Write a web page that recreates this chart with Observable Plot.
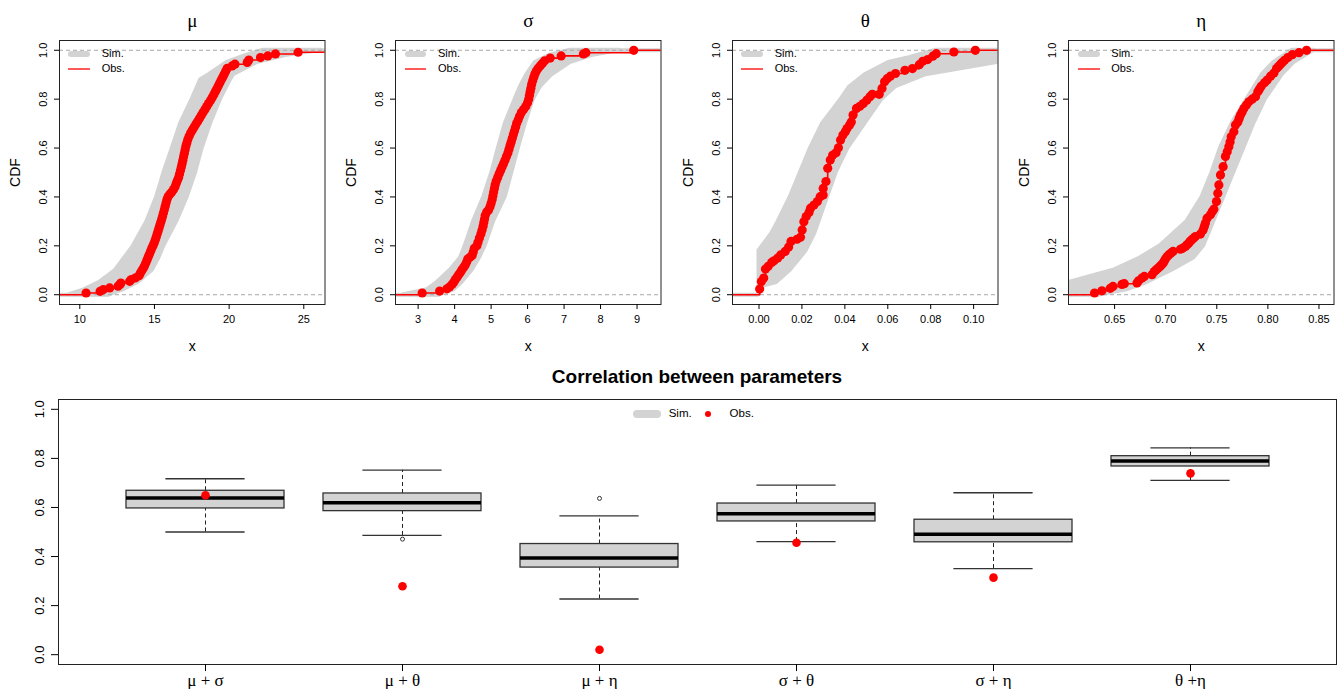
<!DOCTYPE html>
<html><head><meta charset="utf-8">
<script src="https://cdn.jsdelivr.net/npm/d3@7"></script>
<script src="https://cdn.jsdelivr.net/npm/@observablehq/plot@0.6"></script>
<style>
html,body{margin:0;padding:0;background:#fff;overflow:hidden;}
#wrap{position:relative;width:1338px;height:689px;overflow:hidden;font-family:"Liberation Sans",Arial,Helvetica,sans-serif;color:#000;}
.abs{position:absolute;}
.lab{position:absolute;white-space:nowrap;line-height:1;}
</style></head><body><div id="wrap"></div>
<script>
// ---------- DATA ----------
// μ panel: observed ECDF points (x, F)
const muObsX = [10.42,11.36,11.58,12.0,12.56,12.7,12.75,13.34,13.45,13.74,13.97,14.05,14.15,14.25,14.33,14.42,14.5,14.58,14.66,14.74,14.82,14.9,14.98,15.05,15.12,15.18,15.24,15.3,15.36,15.42,15.48,15.54,15.6,15.66,15.72,15.78,15.84,15.92,16.04,16.16,16.28,16.38,16.46,16.54,16.62,16.68,16.74,16.8,16.85,16.9,16.95,17.0,17.05,17.1,17.16,17.23,17.32,17.42,17.54,17.66,17.78,17.9,18.02,18.14,18.26,18.38,18.5,18.62,18.74,18.86,18.97,19.07,19.17,19.27,19.37,19.47,19.57,19.67,19.77,19.87,20.2,20.39,21.21,21.32,22.1,22.59,23.1,24.62];
const muObsF = [0.007,0.014,0.021,0.028,0.035,0.042,0.048,0.055,0.062,0.069,0.078,0.088,0.098,0.108,0.118,0.13,0.142,0.154,0.166,0.178,0.19,0.2,0.212,0.224,0.236,0.248,0.26,0.272,0.284,0.296,0.308,0.32,0.334,0.348,0.362,0.376,0.39,0.402,0.412,0.42,0.43,0.442,0.455,0.468,0.48,0.494,0.508,0.522,0.536,0.55,0.564,0.578,0.592,0.606,0.62,0.634,0.648,0.662,0.674,0.686,0.698,0.71,0.722,0.734,0.746,0.758,0.77,0.782,0.794,0.806,0.818,0.83,0.842,0.854,0.866,0.878,0.89,0.902,0.914,0.926,0.936,0.943,0.95,0.96,0.97,0.977,0.985,0.992,1.0];
// μ simulated band (CDF level, leftmost and rightmost simulated x)
const muSimLev = [0,0.02,0.05,0.1,0.15,0.2,0.3,0.4,0.5,0.6,0.7,0.8,0.88,0.9,0.95,0.98,1];
const muSimLo  = [9.3,10.3,11.3,12.4,13.0,13.6,14.5,15.15,15.64,16.2,16.75,17.53,18.1,18.65,19.87,21.2,22.3];
const muSimHi  = [12.0,12.9,13.9,14.86,15.3,15.64,16.5,17.2,17.76,18.2,18.76,19.43,20.1,20.3,21.88,23.9,26.2];

// σ panel
const sgObsX = [3.11,3.59,3.79,3.86,3.93,3.98,4.02,4.07,4.11,4.16,4.2,4.25,4.29,4.33,4.36,4.42,4.48,4.51,4.54,4.61,4.64,4.68,4.72,4.75,4.78,4.8,4.82,4.84,4.88,4.93,4.97,5.0,5.03,5.05,5.07,5.09,5.11,5.14,5.18,5.22,5.26,5.3,5.34,5.38,5.42,5.46,5.49,5.52,5.55,5.58,5.61,5.64,5.67,5.7,5.74,5.78,5.83,5.89,5.95,6.0,6.03,6.05,6.07,6.09,6.11,6.14,6.17,6.2,6.24,6.29,6.35,6.41,6.47,6.62,6.92,7.53,7.6,8.91];
const sgObsF = [0.007,0.015,0.024,0.032,0.042,0.052,0.062,0.072,0.082,0.092,0.102,0.112,0.122,0.134,0.146,0.153,0.16,0.175,0.19,0.2,0.215,0.232,0.248,0.264,0.28,0.295,0.31,0.325,0.338,0.347,0.36,0.374,0.39,0.405,0.42,0.435,0.45,0.465,0.48,0.495,0.508,0.522,0.536,0.55,0.565,0.58,0.595,0.61,0.625,0.64,0.655,0.67,0.685,0.7,0.715,0.73,0.745,0.758,0.77,0.785,0.80,0.815,0.83,0.845,0.86,0.875,0.89,0.903,0.915,0.926,0.937,0.947,0.957,0.968,0.977,0.985,0.99,1.0];
const sgSimLev = [0,0.02,0.05,0.1,0.15,0.2,0.3,0.4,0.5,0.6,0.7,0.8,0.85,0.9,0.95,0.98,1];
const sgSimLo  = [2.6,3.25,3.52,3.88,4.16,4.29,4.52,4.8,5.02,5.2,5.39,5.66,5.8,5.98,6.21,6.62,7.17];
const sgSimHi  = [3.6,3.98,4.2,4.48,4.68,4.84,5.07,5.39,5.57,5.75,5.94,6.16,6.35,6.67,7.17,7.8,8.53];

// θ panel
const thObsX = [0.0003,0.0011,0.0022,0.003,0.0043,0.0059,0.007,0.0087,0.0101,0.0122,0.0138,0.0149,0.0177,0.0193,0.0201,0.0209,0.022,0.0233,0.024,0.0256,0.0272,0.0285,0.0299,0.0299,0.0312,0.032,0.0332,0.0343,0.0359,0.037,0.038,0.0391,0.0402,0.041,0.0422,0.043,0.0438,0.0454,0.047,0.0486,0.0502,0.0517,0.0528,0.056,0.0573,0.0585,0.0597,0.0612,0.0636,0.068,0.0715,0.0747,0.0763,0.0786,0.081,0.0826,0.0908,0.1008];
const thObsF = [0.023,0.054,0.068,0.105,0.116,0.132,0.139,0.15,0.163,0.177,0.195,0.218,0.227,0.235,0.265,0.299,0.32,0.336,0.354,0.367,0.381,0.401,0.408,0.435,0.463,0.517,0.551,0.571,0.581,0.601,0.633,0.653,0.667,0.68,0.694,0.707,0.735,0.762,0.771,0.782,0.796,0.81,0.82,0.82,0.844,0.871,0.884,0.894,0.905,0.918,0.925,0.941,0.955,0.962,0.976,0.986,0.993,1.0];
const thSimLev = [0,0.03,0.05,0.1,0.15,0.18,0.25,0.3,0.4,0.5,0.6,0.7,0.8,0.85,0.9,0.95,0.97,1];
const thSimLo  = [0,0,0,0,0,0,0.0059,0.009,0.0146,0.0193,0.024,0.0296,0.0383,0.0422,0.0494,0.0604,0.07,0.0826];
const thSimHi  = [0,0,0.0082,0.0146,0.0193,0.022,0.026,0.028,0.032,0.036,0.0415,0.0494,0.0573,0.0636,0.0778,0.111,0.125,0.14];

// η panel
const etObsX = [0.6304,0.6376,0.6458,0.6484,0.6572,0.6595,0.6719,0.6735,0.6768,0.6791,0.6866,0.6889,0.6905,0.6922,0.6935,0.6948,0.6961,0.6974,0.6985,0.6997,0.7013,0.7029,0.705,0.7072,0.7144,0.7165,0.7193,0.7209,0.7225,0.7238,0.7252,0.7272,0.7291,0.734,0.7366,0.7378,0.7389,0.7405,0.7438,0.7455,0.7471,0.7497,0.751,0.752,0.7536,0.7562,0.7585,0.7602,0.7618,0.763,0.7641,0.7667,0.7683,0.7706,0.7719,0.7732,0.7748,0.7765,0.779,0.7814,0.7846,0.7879,0.7902,0.7918,0.7935,0.7967,0.7993,0.8026,0.8059,0.8085,0.8104,0.8124,0.8143,0.8163,0.8196,0.8239,0.8304,0.8379];
const etObsF = [0.007,0.016,0.026,0.034,0.042,0.045,0.048,0.057,0.068,0.075,0.082,0.095,0.101,0.107,0.112,0.118,0.123,0.129,0.137,0.146,0.155,0.163,0.17,0.177,0.186,0.19,0.197,0.204,0.211,0.218,0.224,0.231,0.238,0.248,0.265,0.279,0.293,0.313,0.327,0.339,0.35,0.381,0.415,0.449,0.49,0.524,0.565,0.585,0.605,0.625,0.646,0.667,0.694,0.707,0.721,0.735,0.748,0.762,0.776,0.789,0.80,0.81,0.83,0.842,0.853,0.867,0.878,0.894,0.907,0.925,0.934,0.943,0.951,0.959,0.97,0.982,0.99,1.0];
const etSimLev = [0,0.02,0.05,0.1,0.15,0.2,0.3,0.4,0.5,0.6,0.7,0.8,0.9,0.95,1];
const etSimLo  = [0.58,0.59,0.605,0.649,0.675,0.6948,0.7209,0.7356,0.7454,0.7536,0.765,0.7797,0.7944,0.8059,0.8239];
const etSimHi  = [0.636,0.662,0.6817,0.7062,0.7275,0.7373,0.7471,0.7569,0.7667,0.7765,0.7863,0.7977,0.8141,0.8255,0.8451];

// Correlation boxplots
const pairs     = ["μ + σ","μ + θ","μ + η","σ + θ","σ + η","θ +η"];
const whiskLo   = [0.500,0.486,0.227,0.461,0.351,0.710];
const quart1    = [0.596,0.585,0.355,0.543,0.458,0.767];
const medians   = [0.639,0.619,0.394,0.574,0.491,0.789];
const quart3    = [0.668,0.657,0.451,0.616,0.550,0.809];
const whiskHi   = [0.717,0.752,0.566,0.691,0.660,0.843];
const obsCorr   = [0.650,0.279,0.020,0.456,0.314,0.739];
const outlierPair = ["μ + θ","μ + η"];
const outlierVal  = [0.471,0.637];

const cdfTicks = [0,0.2,0.4,0.6,0.8,1];

// ---------- DRAW ----------
const FONT = "'Liberation Sans', Arial, Helvetica, sans-serif";
const SERIF = "'Liberation Serif', 'DejaVu Serif', serif";
const GRAY = "#d3d3d3";
const wrap = document.getElementById("wrap");

function place(el, left, top, w) {
  const d = document.createElement("div");
  d.className = "abs";
  d.style.left = left + "px"; d.style.top = top + "px";
  if (w) d.style.width = w + "px";
  d.appendChild(el);
  wrap.appendChild(d);
  return d;
}
function box(left, top, w, h, bg, radius) {
  const d = document.createElement("div");
  d.className = "abs";
  Object.assign(d.style, {left:left+"px", top:top+"px", width:w+"px", height:h+"px", background:bg, borderRadius:(radius||0)+"px"});
  wrap.appendChild(d);
}
function label(text, left, cy, size, extra) {
  const s = document.createElement("div");
  s.className = "lab";
  s.textContent = text;
  s.style.left = left + "px";
  s.style.top = (cy - size*0.55) + "px";
  s.style.fontSize = size + "px";
  if (extra) Object.assign(s.style, extra);
  wrap.appendChild(s);
}

const panels = [
  {title:"μ", left:58.7, domain:[8.641,26.42], ticks:[10,15,20,25], fmt:d3.format("d"), obsX:muObsX, obsF:muObsF, lev:muSimLev, lo:muSimLo, hi:muSimHi},
  {title:"σ", left:395, domain:[2.379,9.657], ticks:[3,4,5,6,7,8,9], fmt:d3.format("d"), obsX:sgObsX, obsF:sgObsF, lev:sgSimLev, lo:sgSimLo, hi:sgSimHi},
  {title:"θ", left:731.7, domain:[-0.01235,0.11135], ticks:[0,0.02,0.04,0.06,0.08,0.10], fmt:d3.format(".2f"), obsX:thObsX, obsF:thObsF, lev:thSimLev, lo:thSimLo, hi:thSimHi},
  {title:"η", left:1068.3, domain:[0.6049,0.8647], ticks:[0.65,0.70,0.75,0.80,0.85], fmt:d3.format(".2f"), obsX:etObsX, obsF:etObsF, lev:etSimLev, lo:etSimLo, hi:etSimHi}
];

const ML = 58, MR = 14, FW = 265.5;
panels.forEach(p => {
  const width = ML + FW + MR;
  const obs = p.obsX.map((x,i) => ({x, y:p.obsF[i]}));
  const stepLine = [{x:p.domain[0], y:0}, ...obs, {x:p.domain[1], y:1}];
  const band = p.lev.map((y,i) => ({y, x1:p.lo[i], x2:p.hi[i]}));
  const n = p.lo.length;
  const flat = [{y:0, x1:p.domain[0], x2:p.hi[0]}, {y:1, x1:p.lo[n-1], x2:p.domain[1]}];
  const chart = Plot.plot({
    width, height:360, marginLeft:ML, marginRight:MR, marginTop:40, marginBottom:56,
    style:{fontFamily:FONT, background:"transparent", overflow:"visible"},
    x:{domain:p.domain}, y:{domain:[-0.04,1.04]},
    marks:[
      Plot.ruleY(flat, {y:"y", x1:"x1", x2:"x2", stroke:GRAY, strokeWidth:4, clip:true}),
      Plot.areaX(band, {y:"y", x1:"x1", x2:"x2", fill:GRAY, stroke:GRAY, strokeWidth:4, strokeLinejoin:"round", clip:true}),
      Plot.ruleY([0,1], {stroke:"#a8a8a8", strokeDasharray:"4,3"}),
      Plot.line(stepLine, {x:"x", y:"y", curve:"step-after", stroke:"red", strokeWidth:1.6, clip:true}),
      Plot.dot(obs, {x:"x", y:"y", r:4.6, fill:"red"}),
      Plot.frame({stroke:"#222"}),
      Plot.axisX({ticks:p.ticks, tickFormat:p.fmt, tickSize:5, tickPadding:6, fontSize:11, label:null}),
      Plot.axisY({ticks:cdfTicks, tickFormat:".1f", tickSize:5, tickRotate:-90, tickPadding:8, fontSize:11, label:null}),
      Plot.text([p.title], {text:d=>d, frameAnchor:"top", lineAnchor:"middle", dy:-20, fontSize:19, fontFamily:SERIF}),
      Plot.text(["x"], {text:d=>d, frameAnchor:"bottom", lineAnchor:"middle", dy:42, fontSize:14}),
      Plot.text(["CDF"], {text:d=>d, frameAnchor:"left", textAnchor:"middle", lineAnchor:"middle", dx:-44, rotate:-90, fontSize:14})
    ]
  });
  place(chart, p.left - ML, 0, width);
  // in-panel legend
  box(p.left + 9.6, 51, 21.7, 6, GRAY, 3);
  box(p.left + 9.6, 68.3, 21.7, 2, "#ff5a5a", 0);
  label("Sim.", p.left + 43, 54, 11);
  label("Obs.", p.left + 43, 69.3, 11);
});

// ---- bottom boxplot ----
const rows = pairs.map((c,i) => ({c, lo:whiskLo[i], q1:quart1[i], med:medians[i], q3:quart3[i], hi:whiskHi[i], obs:obsCorr[i]}));
const outs = outlierPair.map((c,i) => ({c, v:outlierVal[i]}));
const capInset = 39.4;
const bottom = Plot.plot({
  width:1338, height:329, marginLeft:58, marginRight:2, marginTop:39, marginBottom:25,
  style:{fontFamily:FONT, background:"transparent", overflow:"visible"},
  x:{type:"band", domain:pairs, paddingInner:0.2, paddingOuter:0.34},
  y:{domain:[-0.04,1.04]},
  marks:[
    Plot.ruleX(rows, {x:"c", y1:"q3", y2:"hi", stroke:"#222", strokeDasharray:"4,3"}),
    Plot.ruleX(rows, {x:"c", y1:"lo", y2:"q1", stroke:"#222", strokeDasharray:"4,3"}),
    Plot.tickY(rows, {x:"c", y:"hi", insetLeft:capInset, insetRight:capInset, stroke:"#333", strokeWidth:1.3}),
    Plot.tickY(rows, {x:"c", y:"lo", insetLeft:capInset, insetRight:capInset, stroke:"#333", strokeWidth:1.3}),
    Plot.barY(rows, {x:"c", y1:"q1", y2:"q3", fill:GRAY, stroke:"#333", strokeWidth:1.3}),
    Plot.tickY(rows, {x:"c", y:"med", stroke:"#000", strokeWidth:3.5}),
    Plot.dot(outs, {x:"c", y:"v", r:2, stroke:"#333", fill:"white", strokeWidth:1}),
    Plot.dot(rows, {x:"c", y:"obs", r:4.3, fill:"red"}),
    Plot.frame({stroke:"#222"}),
    Plot.axisX({tickSize:7, tickPadding:2, fontSize:17, fontFamily:SERIF, label:null}),
    Plot.axisY({ticks:cdfTicks, tickFormat:".1f", tickSize:7, tickRotate:-90, tickPadding:8, fontSize:13, label:null})
  ]
});
place(bottom, 0, 360, 1338);

// bottom title & legend
label("Correlation between parameters", 0, 377, 19, {width:"1338px", textAlign:"center", fontWeight:"bold", left:"28px"});
box(632.7, 410, 28.6, 8, GRAY, 4);
label("Sim.", 668.7, 414, 11.5);
box(705, 411.2, 5.6, 5.6, "red", 3);
label("Obs.", 729.6, 414, 11.5);
</script></body></html>
